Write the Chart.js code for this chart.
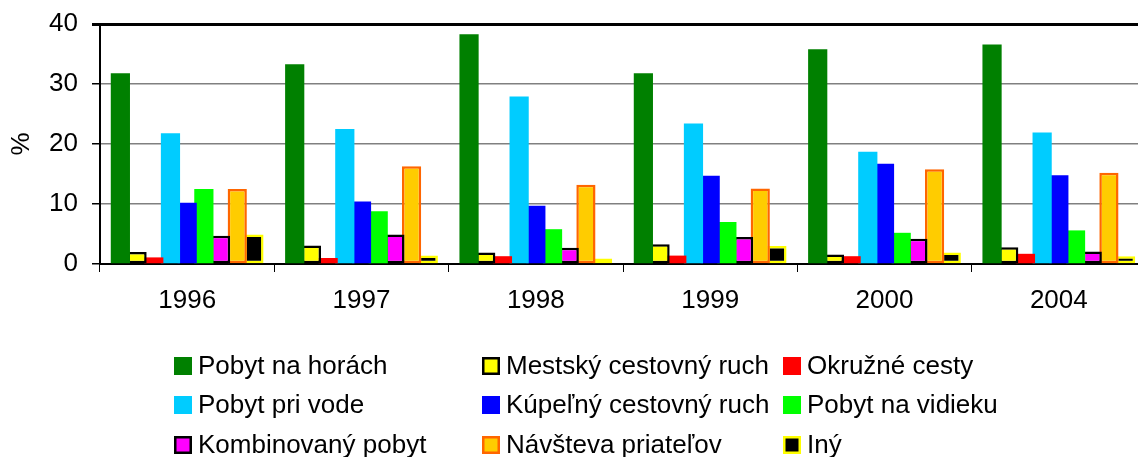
<!DOCTYPE html>
<html>
<head>
<meta charset="utf-8">
<script src="https://cdn.jsdelivr.net/npm/chart.js@4/dist/chart.umd.min.js"></script>
<style>
	html, body { margin: 0; padding: 0; background: #fff; overflow: hidden; }
	canvas { display: block; }
</style>
</head>
<body>
<canvas id="tourism-chart" width="1150" height="457"></canvas>
<script>
const years = [ '1996', '1997', '1998', '1999', '2000', '2004' ];

const pobytNaHorach = [ 31.8, 33.3, 38.3, 31.8, 35.8, 36.6 ];
const mestskyRuch = [ 2.0, 3.1, 1.9, 3.3, 1.6, 2.8 ];
const okruzneCesty = [ 1.1, 1.0, 1.3, 1.4, 1.3, 1.7 ];
const pobytPriVode = [ 21.8, 22.5, 27.9, 23.4, 18.7, 21.9 ];
const kupelnyRuch = [ 10.2, 10.4, 9.7, 14.7, 16.7, 14.8 ];
const pobytNaVidieku = [ 12.5, 8.8, 5.8, 7.0, 5.2, 5.6 ];
const kombinovanyPobyt = [ 4.7, 4.9, 2.7, 4.5, 4.2, 2.1 ];
const navstevaPriatelov = [ 12.5, 16.3, 13.2, 12.6, 15.8, 15.2 ];
const iny = [ 4.9, 1.4, 0.9, 3.0, 1.9, 1.3 ];

const yTicks = [ 0, 10, 20, 30, 40 ];

const FONT = { family: '"Liberation Sans", Arial, sans-serif', size: 26 };

// helper for one bar series
const series = ( label, data, fill, border ) => ( {
	label,
	data,
	backgroundColor: fill,
	borderColor: border || fill,
	borderWidth: border ? 2.5 : 0,
	borderSkipped: false,
	categoryPercentage: 0.862,
	barPercentage: 1.15,
} );

// legend laid out as 3x3 grid below the plot
const gridLegend = {
	id: 'gridLegend',
	afterDraw( chart ) {
		const ctx = chart.ctx;
		const colX = [ 174, 482, 783 ];
		const rowY = [ 366, 405, 445 ];
		ctx.save();
		ctx.font = FONT.size + 'px ' + FONT.family;
		ctx.textBaseline = 'middle';
		chart.data.datasets.forEach( ( ds, i ) => {
			const x = colX[ i % 3 ];
			const y = rowY[ Math.floor( i / 3 ) ];
			ctx.fillStyle = ds.backgroundColor;
			ctx.fillRect( x, y - 9, 18, 18 );
			if ( ds.borderWidth ) {
				ctx.strokeStyle = ds.borderColor;
				ctx.lineWidth = 2.5;
				ctx.strokeRect( x + 1.25, y - 7.75, 15.5, 15.5 );
			}
			ctx.fillStyle = '#000';
			ctx.fillText( ds.label, x + 24, y + 1 );
		} );
		ctx.restore();
	},
};

const ctx = document.getElementById( 'tourism-chart' ).getContext( '2d' );
new Chart( ctx, {
	type: 'bar',
	data: {
		labels: years,
		datasets: [
			series( 'Pobyt na horách', pobytNaHorach, '#008000' ),
			series( 'Mestský cestovný ruch', mestskyRuch, '#FFFF00', '#000000' ),
			series( 'Okružné cesty', okruzneCesty, '#FF0000' ),
			series( 'Pobyt pri vode', pobytPriVode, '#00CCFF' ),
			series( 'Kúpeľný cestovný ruch', kupelnyRuch, '#0000FF' ),
			series( 'Pobyt na vidieku', pobytNaVidieku, '#00FF00' ),
			series( 'Kombinovaný pobyt', kombinovanyPobyt, '#FF00FF', '#000000' ),
			series( 'Návšteva priateľov', navstevaPriatelov, '#FFCC00', '#FF6600' ),
			series( 'Iný', iny, '#000000', '#FFFF00' ),
		],
	},
	options: {
		responsive: false,
		animation: false,
		devicePixelRatio: 1,
		layout: {
			padding: { top: 24, right: 4, left: 0, bottom: 0 },
		},
		plugins: {
			legend: { display: false },
			tooltip: { enabled: false },
		},
		scales: {
			x: {
				z: 1,
				grid: {
					offset: true,
					drawOnChartArea: false,
					drawTicks: true,
					tickLength: 8,
					color: '#000',
					lineWidth: 1,
				},
				border: { color: '#000', width: 2 },
				ticks: {
					color: '#000',
					font: FONT,
					padding: 13,
					maxRotation: 0,
				},
				afterFit( scale ) {
					scale.height = 193;
					scale.paddingLeft = 0;
					scale.paddingRight = 0;
				},
			},
			y: {
				min: 0,
				max: 40,
				afterBuildTicks( scale ) {
					scale.ticks = yTicks.map( ( v ) => ( { value: v } ) );
				},
				grid: {
					color: ( c ) => ( c.tick && c.tick.value === 40 ? '#000' : '#808080' ),
					lineWidth: ( c ) => ( c.tick && c.tick.value === 40 ? 3 : 1.5 ),
					tickColor: '#000',
					tickLength: 8,
				},
				border: { color: '#000', width: 2 },
				ticks: {
					color: '#000',
					font: FONT,
					padding: 14,
				},
				title: {
					display: true,
					text: '%',
					color: '#000',
					font: FONT,
					padding: { top: 6, bottom: 0 },
				},
				afterFit( scale ) {
					scale.width = 100;
					scale.paddingTop = 0;
					scale.paddingBottom = 0;
				},
			},
		},
	},
	plugins: [ gridLegend ],
} );
</script>
</body>
</html>
